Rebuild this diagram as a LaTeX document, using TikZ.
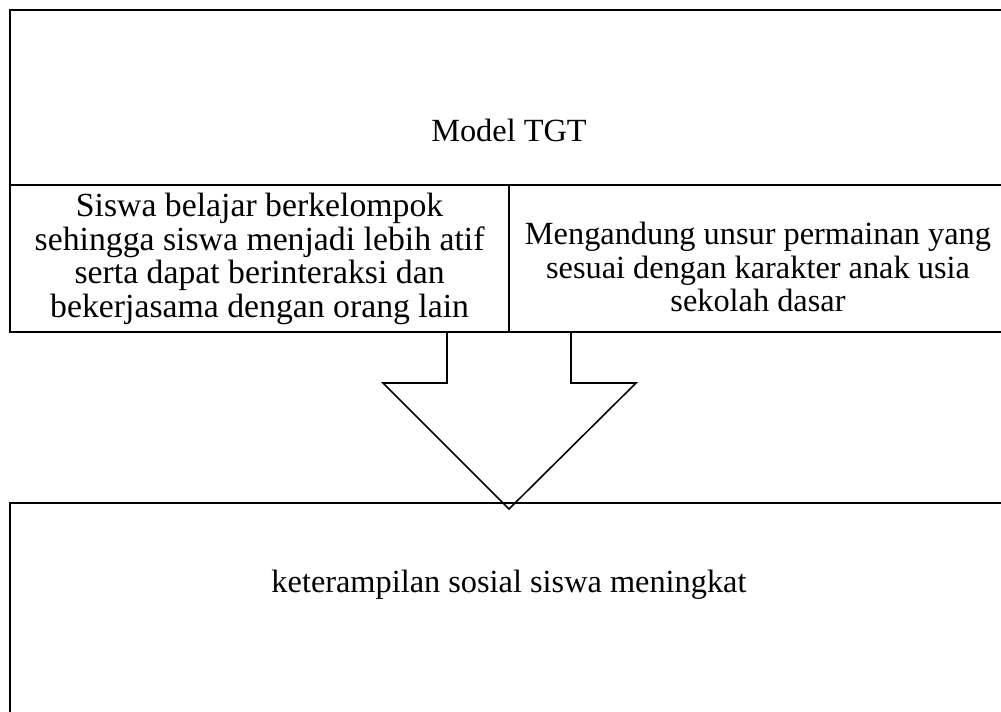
\documentclass[tikz,border=0pt]{standalone}
\usepackage{fontspec}
\setmainfont{Liberation Serif}
\begin{document}
\begin{tikzpicture}[
  box/.style={draw,line width=1.6pt},
  bigarrow/.style={draw,line width=1.1pt,line join=miter},
  txt/.style={align=center,font=\fontsize{23}{24}\selectfont}
]
  \useasboundingbox (0,0) rectangle (25.025,17.775);
  % frames
  \draw[box] (0.25,13.15) rectangle (25.3,17.525);
  \draw[box] (0.25,9.475) rectangle (12.725,13.15);
  \draw[box] (12.725,9.475) rectangle (25.3,13.15);
  \draw[box] (0.25,5.2) rectangle (25.3,-1);
  % block arrow
  \draw[bigarrow] (11.175,9.475) -- (11.175,8.2) -- (9.575,8.2) -- (12.725,5.05)
    -- (15.9,8.2) -- (14.275,8.2) -- (14.275,9.475);
  \node[txt] (tgt) at (12.725,14.525) {Model TGT};
  \node[txt,font=\fontsize{24}{24}\selectfont] (group) at (6.49,11.3) {Siswa belajar berkelompok\\sehingga siswa menjadi lebih atif\\serta dapat berinteraksi dan\\bekerjasama dengan orang lain};
  \node[txt] (game) at (18.95,11.1) {Mengandung unsur permainan yang\\sesuai dengan karakter anak usia\\sekolah dasar};
  \node[txt] (skill) at (12.725,3.15) {keterampilan sosial siswa meningkat};
\end{tikzpicture}
\end{document}
